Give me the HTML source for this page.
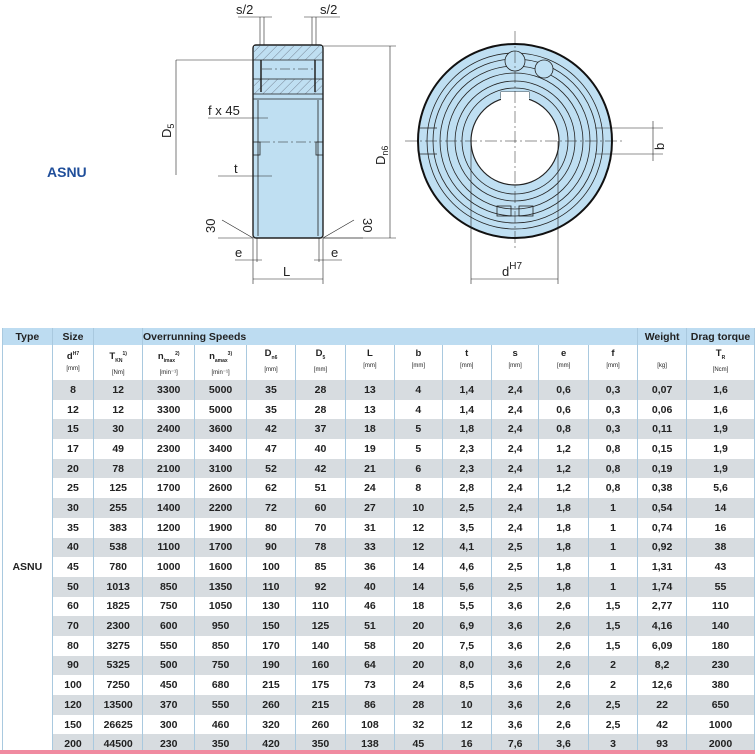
<!DOCTYPE html>
<html><head><meta charset="utf-8">
<style>
html,body{margin:0;padding:0;background:#fff;}
body{width:755px;height:754px;position:relative;overflow:hidden;font-family:"Liberation Sans Narrow","Liberation Sans",sans-serif;}
svg{position:absolute;left:0;top:0;}
.asnu{position:absolute;left:47px;top:164px;color:#1f4e9a;font-weight:bold;font-size:14px;font-family:"Liberation Sans Narrow","Liberation Sans",sans-serif;}
table{position:absolute;left:2px;top:328px;border-collapse:collapse;table-layout:fixed;font-weight:bold;font-size:10.5px;color:#222;}
td{text-align:center;padding:0;border-left:1px solid #a9c9df;border-right:1px solid #a9c9df;overflow:hidden;white-space:nowrap;}
tr.h td{background:#bddcf1;height:17px;font-size:10.5px;color:#222;}
tr.s td{height:32px;font-size:9.5px;line-height:12px;vertical-align:top;padding-top:3px;}
tr.s small{font-size:6px;display:block;font-weight:normal;}
sub,sup{font-size:5px;}
tr.d td{height:19.7px;}
tr.g td.v{background:#d7dce0;}
td.typ{background:#fff;}
.pink{position:absolute;left:0;top:750px;width:755px;height:4px;background:#f08aa0;}
</style></head><body>
<svg width="755" height="330" viewBox="0 0 755 330" font-family="Liberation Sans, sans-serif" fill="none" stroke="#222" stroke-width="0.8">
<defs>
<pattern id="hat" width="6" height="6" patternUnits="userSpaceOnUse" patternTransform="rotate(45)">
<rect width="6" height="6" fill="#bfdff2" stroke="none"/><line x1="0" y1="0" x2="0" y2="6" stroke="#445" stroke-width="0.6"/></pattern>
</defs>
<!-- side view -->
<rect x="253" y="45" width="70" height="193" rx="3" fill="#bfdff2" stroke="#222" stroke-width="1.4"/>
<rect x="254" y="46" width="68" height="14" fill="url(#hat)" stroke="none"/>
<rect x="254" y="79" width="68" height="15" fill="url(#hat)" stroke="none"/>
<line x1="253" y1="60" x2="323" y2="60"/><line x1="253" y1="79" x2="323" y2="79"/>
<line x1="253" y1="94" x2="323" y2="94"/><line x1="253" y1="99" x2="323" y2="99"/>
<line x1="261" y1="60" x2="261" y2="92" stroke-width="1.5"/><line x1="315" y1="60" x2="315" y2="92" stroke-width="1.5"/>
<line x1="258" y1="100" x2="258" y2="236"/><line x1="318" y1="100" x2="318" y2="236"/>
<rect x="253" y="142" width="7" height="13"/><rect x="316" y="142" width="7" height="13"/>
<line x1="262" y1="69" x2="315" y2="69" stroke-dasharray="10,3,2,3" stroke-width="0.5"/>
<line x1="260" y1="142" x2="316" y2="142" stroke-dasharray="10,3,2,3" stroke-width="0.5"/>
<!-- dims side -->
<g stroke-width="0.6">
<line x1="260" y1="17" x2="260" y2="45"/><line x1="264" y1="17" x2="264" y2="45"/>
<line x1="312" y1="17" x2="312" y2="45"/><line x1="316" y1="17" x2="316" y2="45"/>
<line x1="238" y1="17" x2="272" y2="17"/><line x1="304" y1="17" x2="340" y2="17"/>
<line x1="323" y1="46" x2="396" y2="46"/><line x1="323" y1="238" x2="396" y2="238"/>
<line x1="390" y1="46" x2="390" y2="238"/>
<line x1="176" y1="60" x2="253" y2="60"/><line x1="176" y1="60" x2="176" y2="175"/>
<line x1="208" y1="118" x2="268" y2="118"/><line x1="218" y1="176" x2="272" y2="176"/>
<line x1="218" y1="238" x2="253" y2="238"/><line x1="323" y1="238" x2="363" y2="238"/>
<line x1="253" y1="238" x2="222" y2="220"/><line x1="323" y1="238" x2="354" y2="220"/>
<line x1="253" y1="238" x2="253" y2="284"/><line x1="323" y1="238" x2="323" y2="284"/>
<line x1="235" y1="260" x2="262" y2="260"/><line x1="314" y1="260" x2="342" y2="260"/>
<line x1="257" y1="238" x2="257" y2="262"/><line x1="319" y1="238" x2="319" y2="262"/>
<line x1="253" y1="279" x2="323" y2="279"/>
</g>
<g fill="#222" stroke="none" font-size="13">
<text x="236" y="14">s/2</text><text x="320" y="14">s/2</text>
<text x="208" y="115">f x 45</text><text x="234" y="173">t</text>
<text x="235" y="257">e</text><text x="331" y="257">e</text>
<text x="283" y="276">L</text>
<text transform="translate(171,138) rotate(-90)">D<tspan font-size="9" dy="3">5</tspan></text>
<text transform="translate(385,165) rotate(-90)">D<tspan font-size="9" dy="3">n6</tspan></text>
<text transform="translate(215,233) rotate(-90)">30</text>
<text transform="translate(363,218) rotate(90)">30</text>
</g>
<!-- front view -->
<g transform="translate(515,141)">
<circle r="97" fill="#bfdff2" stroke="#111" stroke-width="2"/>
<circle r="88"/><circle r="82"/><circle r="75"/><circle r="68"/><circle r="60"/><circle r="53"/>
<path d="M-14,-43 L-14,-49 L14,-49 L14,-43" fill="#fff"/>
<circle r="44" fill="#fff" stroke-width="1.2"/>
<rect x="-14" y="-49" width="28" height="8" fill="#fff" stroke="none"/>
<circle cx="0" cy="-80" r="10" fill="#bfdff2"/><circle cx="29" cy="-72" r="9" fill="#bfdff2"/>
<rect x="-18" y="65" width="14" height="10"/><rect x="4" y="65" width="14" height="10"/>
<line x1="-97" y1="-13" x2="-78" y2="-13"/><line x1="-97" y1="13" x2="-78" y2="13"/>
<line x1="80" y1="-13" x2="148" y2="-13" stroke-width="0.6"/><line x1="80" y1="13" x2="148" y2="13" stroke-width="0.6"/>
<line x1="-110" y1="0" x2="110" y2="0" stroke-dasharray="12,3,2,3" stroke-width="0.5"/>
<line x1="0" y1="-110" x2="0" y2="110" stroke-dasharray="12,3,2,3" stroke-width="0.5"/>
<line x1="-44" y1="0" x2="-44" y2="143" stroke-width="0.6"/><line x1="43" y1="0" x2="43" y2="143" stroke-width="0.6"/>
<line x1="-44" y1="138" x2="43" y2="138" stroke-width="0.6"/>
<line x1="138" y1="-20" x2="138" y2="20" stroke-width="0.6"/>
</g>
<g fill="#222" stroke="none" font-size="13">
<text x="502" y="276">d<tspan font-size="10" dy="-7">H7</tspan></text>
<text transform="translate(664,150) rotate(-90)">b</text>
</g>
</svg>
<div class="asnu">ASNU</div>
<table>
<colgroup><col style="width:50px"><col style="width:42px"><col style="width:49px"><col style="width:50px"><col style="width:49px"><col style="width:50px"><col style="width:50px"><col style="width:50px"><col style="width:48px"><col style="width:50px"><col style="width:48px"><col style="width:50px"><col style="width:50px"><col style="width:49px"><col style="width:68px"></colgroup>
<tr class="h"><td>Type</td><td>Size</td><td></td><td colspan="2" style="border-right:none">Overrunning Speeds</td><td colspan="8" style="border-left:none"></td><td>Weight</td><td>Drag torque</td></tr>
<tr class="s"><td></td><td>d<sup>H7</sup><small>[mm]</small></td><td>T<sub>KN</sub><sup>1)</sup><small>[Nm]</small></td><td>n<sub>imax</sub><sup>2)</sup><small>[min⁻¹]</small></td><td>n<sub>amax</sub><sup>3)</sup><small>[min⁻¹]</small></td><td>D<sub>n6</sub><small>[mm]</small></td><td>D<sub>5</sub><small>[mm]</small></td><td>L<small>[mm]</small></td><td>b<small>[mm]</small></td><td>t<small>[mm]</small></td><td>s<small>[mm]</small></td><td>e<small>[mm]</small></td><td>f<small>[mm]</small></td><td><br><small>[kg]</small></td><td>T<sub>R</sub><small>[Ncm]</small></td></tr>
<tr class="d g"><td class="typ" rowspan="19">ASNU</td><td class="v">8</td><td class="v">12</td><td class="v">3300</td><td class="v">5000</td><td class="v">35</td><td class="v">28</td><td class="v">13</td><td class="v">4</td><td class="v">1,4</td><td class="v">2,4</td><td class="v">0,6</td><td class="v">0,3</td><td class="v">0,07</td><td class="v">1,6</td></tr>
<tr class="d"><td>12</td><td>12</td><td>3300</td><td>5000</td><td>35</td><td>28</td><td>13</td><td>4</td><td>1,4</td><td>2,4</td><td>0,6</td><td>0,3</td><td>0,06</td><td>1,6</td></tr>
<tr class="d g"><td class="v">15</td><td class="v">30</td><td class="v">2400</td><td class="v">3600</td><td class="v">42</td><td class="v">37</td><td class="v">18</td><td class="v">5</td><td class="v">1,8</td><td class="v">2,4</td><td class="v">0,8</td><td class="v">0,3</td><td class="v">0,11</td><td class="v">1,9</td></tr>
<tr class="d"><td>17</td><td>49</td><td>2300</td><td>3400</td><td>47</td><td>40</td><td>19</td><td>5</td><td>2,3</td><td>2,4</td><td>1,2</td><td>0,8</td><td>0,15</td><td>1,9</td></tr>
<tr class="d g"><td class="v">20</td><td class="v">78</td><td class="v">2100</td><td class="v">3100</td><td class="v">52</td><td class="v">42</td><td class="v">21</td><td class="v">6</td><td class="v">2,3</td><td class="v">2,4</td><td class="v">1,2</td><td class="v">0,8</td><td class="v">0,19</td><td class="v">1,9</td></tr>
<tr class="d"><td>25</td><td>125</td><td>1700</td><td>2600</td><td>62</td><td>51</td><td>24</td><td>8</td><td>2,8</td><td>2,4</td><td>1,2</td><td>0,8</td><td>0,38</td><td>5,6</td></tr>
<tr class="d g"><td class="v">30</td><td class="v">255</td><td class="v">1400</td><td class="v">2200</td><td class="v">72</td><td class="v">60</td><td class="v">27</td><td class="v">10</td><td class="v">2,5</td><td class="v">2,4</td><td class="v">1,8</td><td class="v">1</td><td class="v">0,54</td><td class="v">14</td></tr>
<tr class="d"><td>35</td><td>383</td><td>1200</td><td>1900</td><td>80</td><td>70</td><td>31</td><td>12</td><td>3,5</td><td>2,4</td><td>1,8</td><td>1</td><td>0,74</td><td>16</td></tr>
<tr class="d g"><td class="v">40</td><td class="v">538</td><td class="v">1100</td><td class="v">1700</td><td class="v">90</td><td class="v">78</td><td class="v">33</td><td class="v">12</td><td class="v">4,1</td><td class="v">2,5</td><td class="v">1,8</td><td class="v">1</td><td class="v">0,92</td><td class="v">38</td></tr>
<tr class="d"><td>45</td><td>780</td><td>1000</td><td>1600</td><td>100</td><td>85</td><td>36</td><td>14</td><td>4,6</td><td>2,5</td><td>1,8</td><td>1</td><td>1,31</td><td>43</td></tr>
<tr class="d g"><td class="v">50</td><td class="v">1013</td><td class="v">850</td><td class="v">1350</td><td class="v">110</td><td class="v">92</td><td class="v">40</td><td class="v">14</td><td class="v">5,6</td><td class="v">2,5</td><td class="v">1,8</td><td class="v">1</td><td class="v">1,74</td><td class="v">55</td></tr>
<tr class="d"><td>60</td><td>1825</td><td>750</td><td>1050</td><td>130</td><td>110</td><td>46</td><td>18</td><td>5,5</td><td>3,6</td><td>2,6</td><td>1,5</td><td>2,77</td><td>110</td></tr>
<tr class="d g"><td class="v">70</td><td class="v">2300</td><td class="v">600</td><td class="v">950</td><td class="v">150</td><td class="v">125</td><td class="v">51</td><td class="v">20</td><td class="v">6,9</td><td class="v">3,6</td><td class="v">2,6</td><td class="v">1,5</td><td class="v">4,16</td><td class="v">140</td></tr>
<tr class="d"><td>80</td><td>3275</td><td>550</td><td>850</td><td>170</td><td>140</td><td>58</td><td>20</td><td>7,5</td><td>3,6</td><td>2,6</td><td>1,5</td><td>6,09</td><td>180</td></tr>
<tr class="d g"><td class="v">90</td><td class="v">5325</td><td class="v">500</td><td class="v">750</td><td class="v">190</td><td class="v">160</td><td class="v">64</td><td class="v">20</td><td class="v">8,0</td><td class="v">3,6</td><td class="v">2,6</td><td class="v">2</td><td class="v">8,2</td><td class="v">230</td></tr>
<tr class="d"><td>100</td><td>7250</td><td>450</td><td>680</td><td>215</td><td>175</td><td>73</td><td>24</td><td>8,5</td><td>3,6</td><td>2,6</td><td>2</td><td>12,6</td><td>380</td></tr>
<tr class="d g"><td class="v">120</td><td class="v">13500</td><td class="v">370</td><td class="v">550</td><td class="v">260</td><td class="v">215</td><td class="v">86</td><td class="v">28</td><td class="v">10</td><td class="v">3,6</td><td class="v">2,6</td><td class="v">2,5</td><td class="v">22</td><td class="v">650</td></tr>
<tr class="d"><td>150</td><td>26625</td><td>300</td><td>460</td><td>320</td><td>260</td><td>108</td><td>32</td><td>12</td><td>3,6</td><td>2,6</td><td>2,5</td><td>42</td><td>1000</td></tr>
<tr class="d g"><td class="v">200</td><td class="v">44500</td><td class="v">230</td><td class="v">350</td><td class="v">420</td><td class="v">350</td><td class="v">138</td><td class="v">45</td><td class="v">16</td><td class="v">7,6</td><td class="v">3,6</td><td class="v">3</td><td class="v">93</td><td class="v">2000</td></tr>
</table>
<div class="pink"></div>
</body></html>
